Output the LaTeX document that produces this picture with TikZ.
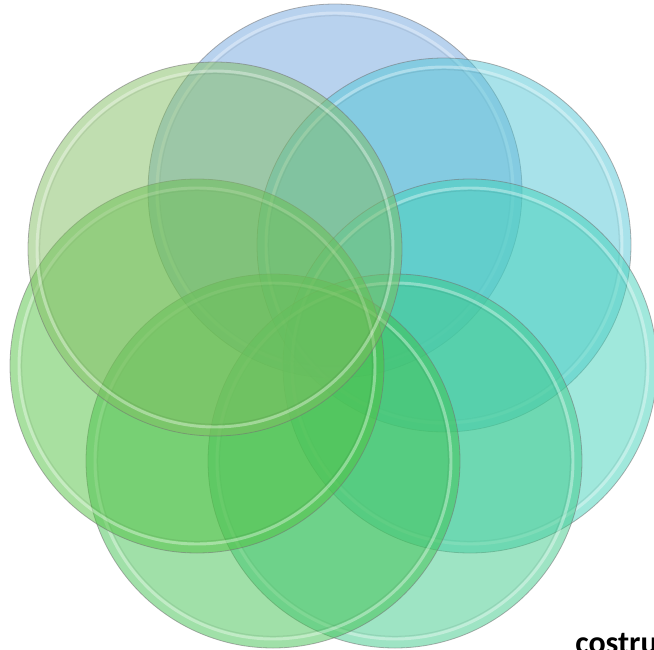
\documentclass[tikz,border=0pt]{standalone}
\usepackage{fontspec}
\setmainfont{Carlito}
\definecolor{cTop}{RGB}{113,165,221}
\definecolor{cTopR}{RGB}{81,197,213}
\definecolor{cRight}{RGB}{65,209,185}
\definecolor{cBotR}{RGB}{61,201,137}
\definecolor{cBotL}{RGB}{65,193,81}
\definecolor{cLeft}{RGB}{81,193,65}
\definecolor{cTopL}{RGB}{129,189,97}
\tikzset{
  bubble/.style={circle, inner sep=0pt, minimum size=280.5pt, fill=#1, fill opacity=0.5,
    draw=black!55, draw opacity=0.55, line width=0.6pt},
  bevel/.style={draw=white, draw opacity=0.35, line width=2.2pt},
  bevelshade/.style={draw=black, draw opacity=0.07, line width=0.8pt},
  label/.style={font=\bfseries\fontsize{24}{24}\selectfont, text=black, inner sep=0pt, anchor=base west}
}
\begin{document}
\begin{tikzpicture}[x=0.75pt,y=-0.75pt]
\useasboundingbox (0,0) rectangle (654,650);
\begin{scope}
\clip (0,0) rectangle (654,650);
\foreach \n/\cx/\cy/\col in {top/335/191/cTop, topr/444/245/cTopR, right/470/366/cRight, botr/395/461/cBotR, botl/273/461/cBotL, left/197/366/cLeft, topl/215/249/cTopL}{
  \node[bubble=\col] (\n) at (\cx,\cy) {};
  \draw[bevel] (\n.center) circle[radius=133.5pt];
  \draw[bevelshade] (\n.center) circle[radius=131.5pt];
}
\node[label] (txt) at (575,653) {costru};
\end{scope}
\end{tikzpicture}
\end{document}
